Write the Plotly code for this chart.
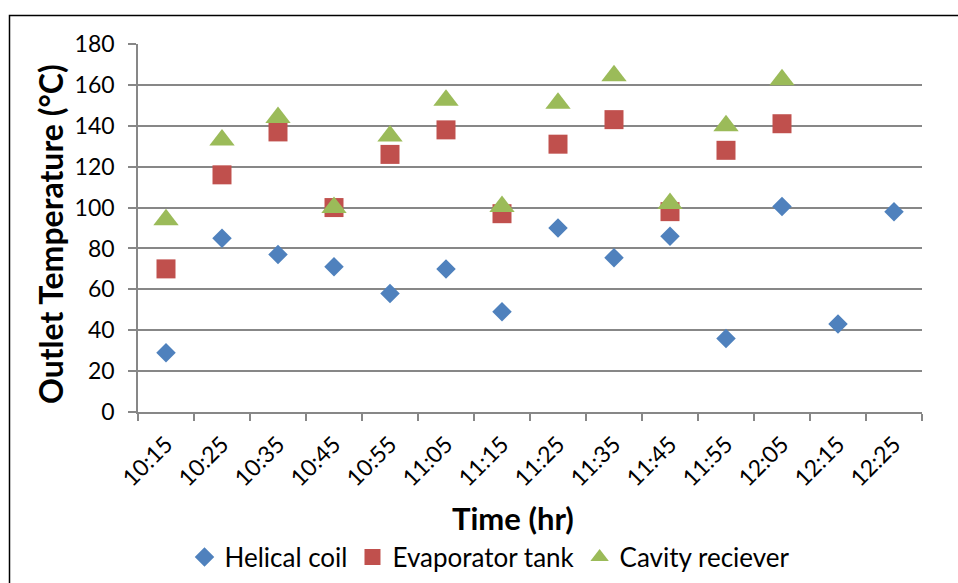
import plotly.graph_objects as go

# Sampling times and outlet temperatures (°C) for each component
times = ["10:15", "10:25", "10:35", "10:45", "10:55", "11:05", "11:15",
         "11:25", "11:35", "11:45", "11:55", "12:05", "12:15", "12:25"]
helical_coil = [29, 85, 77, 71, 58, 70, 49, 90, 75.5, 86, 36, 100.5, 43, 98]
evaporator_tank = [70, 116, 137, 100, 126, 138, 97, 131, 143, 98, 128, 141, None, None]
cavity_receiver = [94, 133, 144, 100, 135, 152.5, 100.5, 151, 164.5, 102, 140, 162.5, None, None]
y_ticks = [0, 20, 40, 60, 80, 100, 120, 140, 160, 180]

W, H = 958, 583
L, R, T, B = 138, 36, 44, 171
pw, ph = W - L - R, H - T - B


def px(x):
    return (x - L) / pw


def py(y):
    return (H - B - y) / ph


FONT = "Lato, 'Open Sans', sans-serif"
GRID = "#878787"

fig = go.Figure()
fig.add_trace(go.Scatter(x=times, y=helical_coil, mode="markers", name="Helical coil",
                         marker=dict(symbol="diamond", size=15, color="#4F81BD")))
fig.add_trace(go.Scatter(x=times, y=evaporator_tank, mode="markers", name="Evaporator tank",
                         marker=dict(symbol="square", size=19, color="#C0504D")))
fig.add_trace(go.Scatter(x=times, y=cavity_receiver, mode="markers", name="Cavity reciever",
                         marker=dict(symbol="triangle-up", size=22, color="#9BBB59")))

fig.update_layout(
    width=W, height=H,
    margin=dict(l=L, r=R, t=T, b=B, autoexpand=False),
    paper_bgcolor="white", plot_bgcolor="white",
    font=dict(family=FONT, size=22, color="black"),
    showlegend=True,
    legend=dict(orientation="h", x=px(490), y=py(557), xanchor="center", yanchor="middle",
                font=dict(size=26), itemwidth=30, tracegroupgap=0,
                bgcolor="rgba(0,0,0,0)"),
    xaxis=dict(type="category", range=[-0.5, len(times) - 0.5], automargin=False,
               tickson="boundaries", ticks="outside", ticklen=7, tickcolor=GRID,
               tickwidth=1.5, tickangle=-45, showgrid=False, showline=True,
               linecolor=GRID, linewidth=1.5, tickfont=dict(size=23),
               ticklabelstandoff=8),
    yaxis=dict(range=[0, 180], tickvals=y_ticks, ticks="outside", ticklen=8,
               automargin=False, tickcolor=GRID, tickwidth=1.5, showgrid=True,
               gridcolor=GRID, gridwidth=1.5, showline=True, linecolor=GRID,
               linewidth=1.5, zeroline=False, tickfont=dict(size=23),
               ticklabelstandoff=9),
    annotations=[
        dict(text="<b>Time (hr)</b>", x=px(513), y=py(518), xref="paper", yref="paper",
             showarrow=False, xanchor="center", yanchor="middle", font=dict(size=31)),
        dict(text="<b>Outlet Temperature (°C)</b>", x=px(50), y=py(234), xref="paper",
             yref="paper", showarrow=False, textangle=-90, xanchor="center",
             yanchor="middle", font=dict(size=32)),
    ],
    shapes=[
        dict(type="rect", xref="paper", yref="paper", x0=px(9.5), y0=py(600),
             x1=px(990), y1=py(15.5), line=dict(color="black", width=1.5),
             fillcolor="rgba(0,0,0,0)", layer="below"),
    ],
)

fig.write_html("out.html")
